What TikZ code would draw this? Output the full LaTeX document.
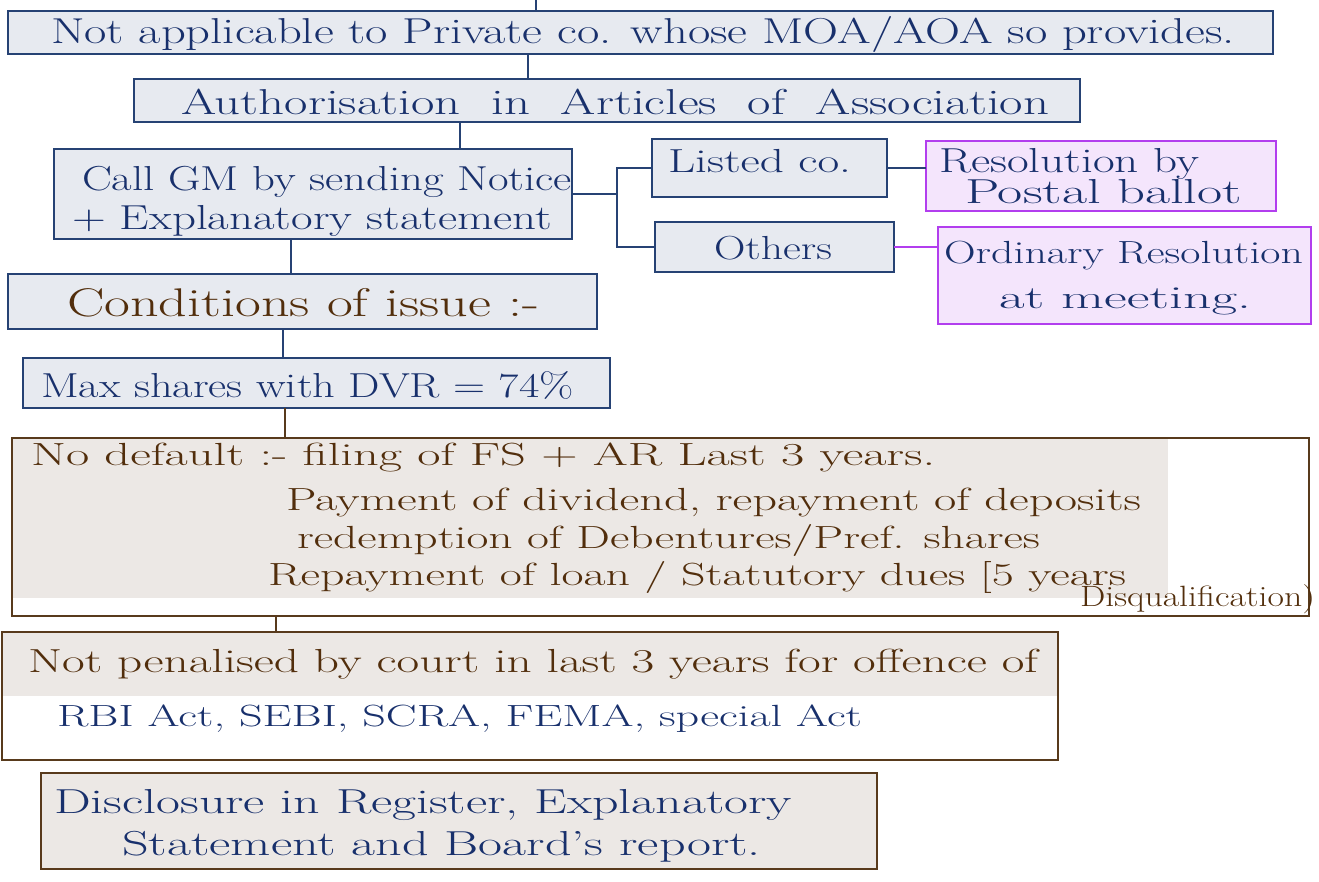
\documentclass[tikz,border=0pt]{standalone}
\usepackage{fontspec}
\usepackage{graphicx}
\newlength\pxu \setlength\pxu{0.75pt}
\newcommand\hw[2]{\resizebox{#1\pxu}{\height}{#2}}
\definecolor{bborder}{RGB}{38,66,116}
\definecolor{bfill}{RGB}{231,234,240}
\definecolor{tblue}{RGB}{24,48,108}
\definecolor{nborder}{RGB}{88,58,28}
\definecolor{nfill}{RGB}{236,232,229}
\definecolor{tbrown}{RGB}{82,46,12}
\definecolor{pborder}{RGB}{178,62,238}
\definecolor{pfill}{RGB}{244,229,252}
\begin{document}
\begin{tikzpicture}[x=0.75pt,y=-0.75pt,
  bx/.style 2 args={minimum width=#1*0.75pt, minimum height=#2*0.75pt, anchor=north west, inner sep=0pt, outer sep=0pt},
  bluebox/.style={draw=bborder, fill=bfill, line width=1.3pt},
  brownbox/.style={draw=nborder, line width=1.3pt},
  purpbox/.style={draw=pborder, fill=pfill, line width=1.3pt},
  tx/.style={anchor=base west, inner sep=0pt, outer sep=0pt, text=tblue},
  txb/.style={tx, text=tbrown},
  fs/.style={font=\fontsize{#1}{#1}\selectfont\addfontfeature{LetterSpace=6}},
  link/.style={draw=bborder, line width=1pt},
  blink/.style={draw=nborder, line width=1pt},
  plink/.style={draw=pborder, line width=1pt}]
\useasboundingbox (0,0) rectangle (1319,881);

% boxes
\node[bx={1265}{43}, bluebox] (b1) at (8,11) {};
\node[bx={946}{43}, bluebox] (b2) at (134,79) {};
\node[bx={518}{90}, bluebox] (b3) at (54,149) {};
\node[bx={589}{55}, bluebox] (b4) at (8,274) {};
\node[bx={587}{50}, bluebox] (b5) at (23,358) {};
\node[bx={235}{58}, bluebox] (listed) at (652,139) {};
\node[bx={239}{50}, bluebox] (others) at (655,222) {};
\node[bx={350}{70}, purpbox] (res) at (926,141) {};
\node[bx={373}{97}, purpbox] (ord) at (938,227) {};
\fill[nfill] (12,438) rectangle (1168,598);
\node[bx={1297}{178}, brownbox] (b6) at (12,438) {};
\fill[nfill] (2,632) rectangle (1058,696);
\node[bx={1056}{128}, brownbox] (b7) at (2,632) {};
\node[bx={836}{96}, brownbox, fill=nfill] (b8) at (41,773) {};

% connectors
\coordinate (top) at (536,0);
\coordinate (c1) at (528,0);
\coordinate (c2) at (460,0);
\coordinate (c3) at (291,0);
\coordinate (c4) at (283,0);
\coordinate (c5) at (285,0);
\coordinate (c6) at (276,0);
\coordinate (brk) at (617,194);
\draw[link] (top) -- (b1.north -| top);
\draw[link] (b1.south -| c1) -- (b2.north -| c1);
\draw[link] (b2.south -| c2) -- (b3.north -| c2);
\draw[link] (b3.south -| c3) -- (b4.north -| c3);
\draw[link] (b4.south -| c4) -- (b5.north -| c4);
\draw[blink] (b5.south -| c5) -- (b6.north -| c5);
\draw[blink] (b6.south -| c6) -- (b7.north -| c6);
\draw[link] (b3.east) -- (brk);
\draw[link] (listed.west) -| (brk) |- (others.west);
\draw[link] (listed.east) -- (listed.east -| res.west);
\draw[plink] (others.east) -- (others.east -| ord.west);

% texts
\node[tx, fs=27] (t1) at (51,44) {\hw{1184}{Not applicable to Private co. whose MOA/AOA so provides.}};
\node[tx, fs=27] (t2) at (181,114) {\hw{868}{Authorisation \ in \ Articles \ of \ Association}};
\node[tx, fs=26] (t3a) at (82,190) {\hw{490}{Call GM by sending Notice}};
\node[tx, fs=26] (t3b) at (72,229) {\hw{480}{+ Explanatory statement}};
\node[txb, fs=30] (t4) at (67,316) {\hw{472}{Conditions of issue :-}};
\node[tx, fs=26] (t5) at (41,397) {\hw{533}{Max shares with DVR = 74\%}};
\node[tx, fs=25] (tl) at (668,172) {\hw{183}{Listed co.}};
\node[tx, fs=25] (tot) at (714,259) {\hw{118}{Others}};
\node[tx, fs=26] (tr1) at (939,172) {\hw{260}{Resolution by}};
\node[tx, fs=26] (tr2) at (965,203) {\hw{277}{Postal ballot}};
\node[tx, fs=24] (to1) at (944,263) {\hw{359}{Ordinary Resolution}};
\node[tx, fs=24] (to2) at (999,308) {\hw{252}{at meeting.}};
\node[txb, fs=24] (t6a) at (31,465) {\hw{904}{No default :- filing of FS + AR Last 3 years.}};
\node[txb, fs=24] (t6b) at (286,510) {\hw{855}{Payment of dividend, repayment of deposits}};
\node[txb, fs=24] (t6c) at (297,548) {\hw{743}{redemption of Debentures/Pref. shares}};
\node[txb, fs=24] (t6d) at (268,585) {\hw{858}{Repayment of loan / Statutory dues [5 years}};
\node[txb, fs=22] (t6e) at (1080,606) {\hw{235}{Disqualification)}};
\node[txb, fs=25] (t7a) at (28,672) {\hw{1010}{Not penalised by court in last 3 years for offence of}};
\node[tx, fs=23] (t7b) at (57,726) {\hw{805}{RBI Act, SEBI, SCRA, FEMA, special Act}};
\node[tx, fs=26] (t8a) at (54,813) {\hw{738}{Disclosure in Register, Explanatory}};
\node[tx, fs=26] (t8b) at (122,855) {\hw{639}{Statement and Board's report.}};
\end{tikzpicture}
\end{document}
